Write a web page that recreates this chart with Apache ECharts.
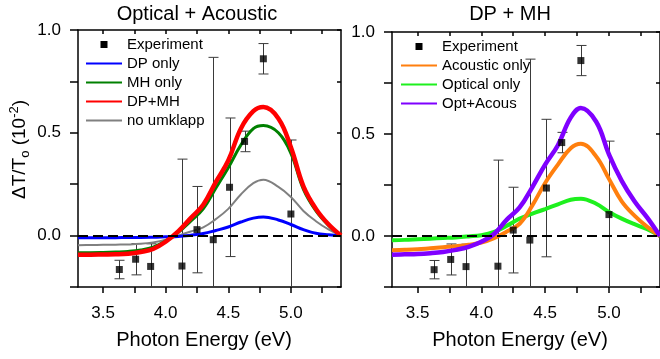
<!DOCTYPE html>
<html>
<head>
<meta charset="utf-8">
<script src="https://cdn.jsdelivr.net/npm/echarts@6/dist/echarts.min.js"></script>
<style>
  html, body { margin: 0; padding: 0; background: #fff; }
  #chart { width: 660px; height: 359px; }
</style>
</head>
<body>
<div id="chart"></div>
<script>
// photon energy grid of the model curves (eV)
var energy = [3.3, 3.4, 3.5, 3.6, 3.7, 3.8, 3.9, 4.0, 4.1, 4.2, 4.3, 4.4, 4.5, 4.6, 4.7, 4.78, 4.9, 5.0, 5.1, 5.2, 5.3, 5.4];

// left panel : optical + acoustic
var dpOnly     = [-0.010, -0.010, -0.010, -0.010, -0.009, -0.009, -0.008, -0.006, -0.004, 0.002, 0.010, 0.025, 0.042, 0.066, 0.085, 0.091, 0.076, 0.054, 0.029, 0.011, 0.004, 0];
var mhOnly     = [-0.083, -0.083, -0.082, -0.080, -0.077, -0.070, -0.056, -0.027, 0.015, 0.070, 0.130, 0.230, 0.330, 0.440, 0.520, 0.535, 0.500, 0.400, 0.225, 0.120, 0.050, 0];
var dpMh       = [-0.093, -0.093, -0.092, -0.091, -0.088, -0.080, -0.065, -0.030, 0.020, 0.085, 0.150, 0.260, 0.365, 0.520, 0.605, 0.625, 0.570, 0.430, 0.240, 0.130, 0.055, 0];
var noUmklapp  = [-0.047, -0.046, -0.045, -0.044, -0.043, -0.040, -0.033, -0.020, 0.000, 0.020, 0.040, 0.080, 0.130, 0.200, 0.255, 0.272, 0.237, 0.188, 0.120, 0.070, 0.030, 0];

// right panel : DP + MH
var acousticOnly = [-0.070, -0.068, -0.065, -0.060, -0.055, -0.050, -0.043, -0.032, -0.010, 0.022, 0.060, 0.150, 0.260, 0.350, 0.430, 0.452, 0.390, 0.280, 0.170, 0.100, 0.045, 0];
var opticalOnly  = [-0.021, -0.019, -0.016, -0.013, -0.010, -0.007, -0.002, 0.004, 0.020, 0.050, 0.085, 0.110, 0.132, 0.155, 0.178, 0.183, 0.158, 0.118, 0.085, 0.058, 0.033, 0];
var optAcous     = [-0.092, -0.090, -0.088, -0.084, -0.078, -0.068, -0.053, -0.028, 0.010, 0.080, 0.140, 0.240, 0.350, 0.445, 0.580, 0.627, 0.560, 0.400, 0.270, 0.170, 0.090, 0];

// measured points with error bars
var expEnergy = [3.63, 3.76, 3.88, 4.13, 4.25, 4.38, 4.51, 4.63, 4.78, 5.0];
var expSignal = [-0.165, -0.115, -0.150, -0.148, 0.029, -0.020, 0.235, 0.458, 0.860, 0.105];
var expError  = [0.045, 0.076, 0.110, 0.520, 0.210, 0.887, 0.337, 0.050, 0.074, 0.360];

// ticks
var xTicks  = [3.5, 3.75, 4.0, 4.25, 4.5, 4.75, 5.0, 5.25];
var xLabels = [3.5, 4.0, 4.5, 5.0];
var yTicks  = [-0.25, 0, 0.25, 0.5, 0.75, 1.0];
var yLabels = [0, 0.5, 1.0];

var font = 'Liberation Sans, Arial, Helvetica, sans-serif';
var black = '#000';

function pairs(ys) {
  return energy.map(function (e, i) { return [e, ys[i]]; });
}

function bottomAxis(grid, shift) {
  return {
    type: 'value', gridIndex: grid, position: 'bottom', min: 3.3, max: 5.4,
    name: 'Photon Energy (eV)', nameLocation: 'middle', nameGap: 43,
    nameTextStyle: { fontSize: 20, color: black, fontFamily: font, padding: [0, shift, 0, 0] },
    axisLine: { show: true, onZero: false, lineStyle: { color: black, width: 1.5 } },
    axisTick: { show: true, length: 6, customValues: xTicks, lineStyle: { color: black, width: 1.5 } },
    axisLabel: { customValues: xLabels, formatter: function (v) { return v.toFixed(1); },
      fontSize: 17, color: black, fontFamily: font, margin: 18 },
    splitLine: { show: false }
  };
}
function topAxis(grid) {
  return {
    type: 'value', gridIndex: grid, position: 'top', min: 3.3, max: 5.4,
    axisLine: { show: true, onZero: false, lineStyle: { color: black, width: 1.5 } },
    axisTick: { show: true, inside: true, length: 4, customValues: xTicks, lineStyle: { color: black, width: 1.5 } },
    axisLabel: { show: false },
    splitLine: { show: false }
  };
}
function leftAxis(grid, named) {
  var ax = {
    type: 'value', gridIndex: grid, position: 'left', min: -0.25, max: 1.0,
    axisLine: { show: true, onZero: false, lineStyle: { color: black, width: 1.5 } },
    axisTick: { show: true, length: 8, customValues: yTicks, lineStyle: { color: black, width: 1.5 } },
    axisLabel: { customValues: yLabels, formatter: function (v) { return v.toFixed(1); },
      fontSize: 17, color: black, fontFamily: font, margin: 17 },
    splitLine: { show: false }
  };
  if (named) {
    ax.name = '{n|ΔT/T}{sub|o}{n| (10}{sup|-2}{n|)}';
    ax.nameLocation = 'middle';
    ax.nameRotate = 90;
    ax.nameGap = 46;
    ax.nameTextStyle = {
      color: black, fontFamily: font, fontSize: 19, padding: [0, 0, 0, 18],
      rich: {
        n:   { fontSize: 19, lineHeight: 24, fontFamily: font, color: black, verticalAlign: 'middle' },
        sub: { fontSize: 13, lineHeight: 24, fontFamily: font, color: black, verticalAlign: 'bottom' },
        sup: { fontSize: 13, lineHeight: 24, fontFamily: font, color: black, verticalAlign: 'top' }
      }
    };
  }
  return ax;
}
function rightAxis(grid) {
  return {
    type: 'value', gridIndex: grid, position: 'right', min: -0.25, max: 1.0,
    axisLine: { show: true, onZero: false, lineStyle: { color: black, width: 1.5 } },
    axisTick: { show: true, inside: true, length: 4, customValues: yTicks, lineStyle: { color: black, width: 1.5 } },
    axisLabel: { show: false },
    splitLine: { show: false }
  };
}

function renderErrorBar(params, api) {
  var e = api.value(0), v = api.value(1), err = api.value(2);
  var cs = params.coordSys;
  var hi = api.coord([e, v + err]);
  var lo = api.coord([e, v - err]);
  var x = Math.round(hi[0]) + 0.5;
  var yTop = Math.max(hi[1], cs.y), yBot = Math.min(lo[1], cs.y + cs.height);
  var st = { stroke: '#3a3a3a', lineWidth: 1 };
  var kids = [{ type: 'line', shape: { x1: x, y1: yTop, x2: x, y2: yBot }, style: st }];
  if (hi[1] >= cs.y) kids.push({ type: 'line', shape: { x1: x - 5, y1: hi[1], x2: x + 5, y2: hi[1] }, style: st });
  if (lo[1] <= cs.y + cs.height) kids.push({ type: 'line', shape: { x1: x - 5, y1: lo[1], x2: x + 5, y2: lo[1] }, style: st });
  return { type: 'group', children: kids };
}

var expData = expEnergy.map(function (e, i) { return [e, expSignal[i], expError[i]]; });
var expPoints = expEnergy.map(function (e, i) { return [e, expSignal[i]]; });

function errorSeries(ax) {
  return { type: 'custom', name: 'err' + ax, xAxisIndex: ax, yAxisIndex: ax, renderItem: renderErrorBar,
    encode: { x: 0, y: 1 }, data: expData, silent: true, z: 1 };
}
function expSeries(ax) {
  return {
    type: 'scatter', name: 'Experiment', xAxisIndex: ax, yAxisIndex: ax, data: expPoints,
    symbol: 'rect', symbolSize: 7, itemStyle: { color: black }, z: 4,
    markLine: {
      silent: true, symbol: 'none', label: { show: false },
      lineStyle: { color: black, type: [10, 5], width: 2 },
      data: [{ yAxis: 0 }]
    }
  };
}
function curve(ax, name, ys, color, w) {
  return { type: 'line', name: name, xAxisIndex: ax, yAxisIndex: ax, data: pairs(ys),
    symbol: 'none', smooth: 0.4, lineStyle: { color: color, width: w }, itemStyle: { color: color }, z: 2 };
}

var square = 'path://M0,0L10,0L10,10L0,10Z';
function legendData(names) {
  return names.map(function (n) {
    if (n === 'Experiment') return { name: n, icon: square, itemStyle: { opacity: 1 } };
    return { name: n, itemStyle: { opacity: 0 } };
  });
}
function legend(left, top, names) {
  return {
    orient: 'vertical', left: left, top: top, itemWidth: 36, itemHeight: 7, itemGap: 4,
    padding: 0, selectedMode: false,
    textStyle: { fontSize: 15, color: black, fontFamily: font },
    data: legendData(names)
  };
}

var chart = echarts.init(document.getElementById('chart'));
chart.setOption({
  animation: false,
  backgroundColor: '#fff',
  title: [
    { text: 'Optical + Acoustic', left: 197, top: 4, textAlign: 'center', padding: 0,
      textStyle: { fontSize: 20, fontWeight: 'normal', color: black, fontFamily: font } },
    { text: 'DP + MH', left: 510, top: 4, textAlign: 'center', padding: 0,
      textStyle: { fontSize: 20, fontWeight: 'normal', color: black, fontFamily: font } }
  ],
  legend: [
    legend(85, 37, ['Experiment', 'DP only', 'MH only', 'DP+MH', 'no umklapp']),
    legend(400, 39, ['Experiment', 'Acoustic only', 'Optical only', 'Opt+Acous'])
  ],
  grid: [
    { left: 78, top: 30, width: 263, height: 257 },
    { left: 392, top: 32, width: 268, height: 255 }
  ],
  xAxis: [bottomAxis(0, 11), topAxis(0), bottomAxis(1, 12), topAxis(1)],
  yAxis: [leftAxis(0, true), rightAxis(0), leftAxis(1, false), rightAxis(1)],
  series: [
    errorSeries(0),
    curve(0, 'no umklapp', noUmklapp, '#808080', 2),
    curve(0, 'DP only', dpOnly, '#0000ff', 3),
    curve(0, 'MH only', mhOnly, '#008000', 3),
    curve(0, 'DP+MH', dpMh, '#ff0000', 4.5),
    expSeries(0),
    errorSeries(2),
    curve(2, 'Optical only', opticalOnly, '#1ef01e', 4),
    curve(2, 'Acoustic only', acousticOnly, '#ff7f0e', 4),
    curve(2, 'Opt+Acous', optAcous, '#7f00ff', 4.5),
    expSeries(2)
  ]
});
</script>
</body>
</html>
